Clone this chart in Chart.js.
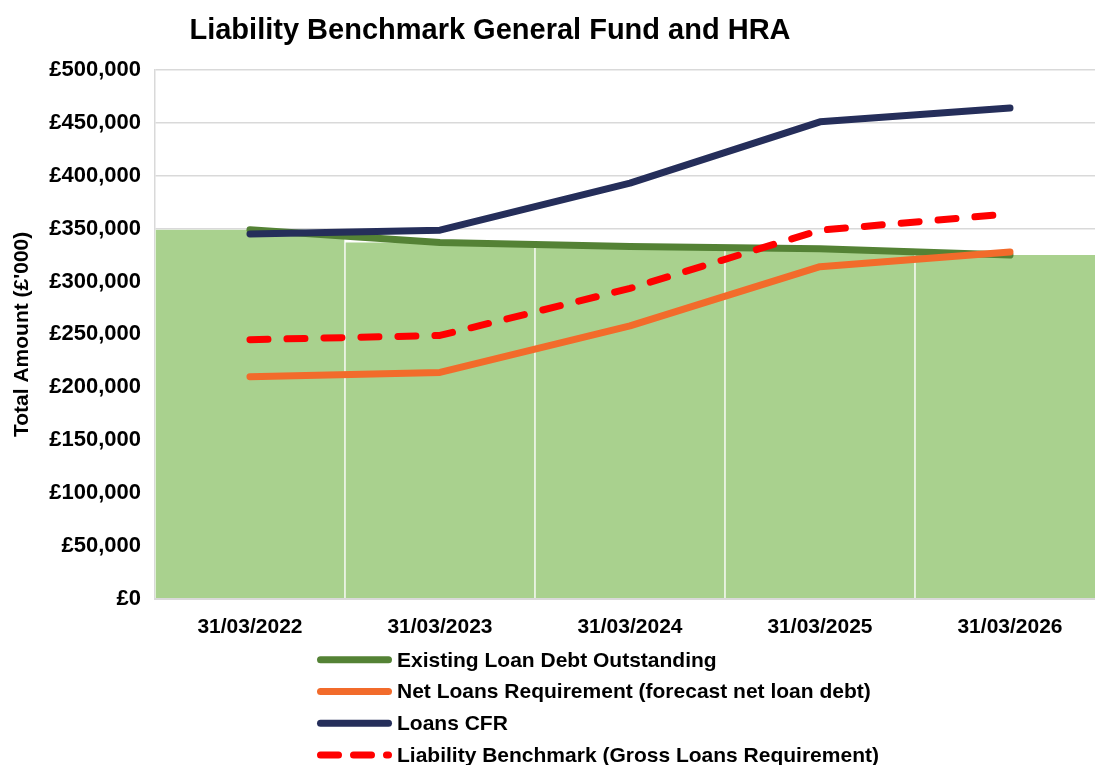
<!DOCTYPE html>
<html>
<head>
<meta charset="utf-8">
<script src="https://cdn.jsdelivr.net/npm/chart.js@4"></script>
<style>
  html, body { margin: 0; padding: 0; background: #fff; overflow: hidden; }
  #wrap { width: 1110px; height: 765px; }
</style>
</head>
<body>
<div id="wrap"><canvas id="benchmarkChart" width="1110" height="765"></canvas></div>
<script>
const categories = ['31/03/2022', '31/03/2023', '31/03/2024', '31/03/2025', '31/03/2026'];
const existingDebt = [349000, 337000, 333000, 331000, 325000];
const netLoansRequirement = [210000, 214000, 258000, 314000, 328000];
const loansCFR = [345000, 348500, 393000, 451000, 464000];
const liabilityBenchmark = [245000, 249000, 293500, 348500, 364000];

const FONT = "'Liberation Sans', Arial, sans-serif";

// title drawn at a fixed spot, legend drawn as a vertical list under the axis
const titleAndLegend = {
    id: 'titleAndLegend',
    afterDraw(chart, args, opts) {
        const ctx = chart.ctx;
        ctx.save();
        ctx.fillStyle = '#000';
        ctx.font = 'bold 29px ' + FONT;
        ctx.textAlign = 'center';
        ctx.textBaseline = 'middle';
        ctx.fillText(opts.title, opts.titleX, opts.titleY);

        const lines = chart.data.datasets.filter(d => d.type === 'line')
            .sort((a, b) => b.order - a.order);
        let y = chart.chartArea.bottom + opts.legendTop;
        lines.forEach(ds => {
            ctx.beginPath();
            ctx.strokeStyle = ds.borderColor;
            ctx.lineWidth = ds.borderWidth;
            ctx.lineCap = 'round';
            ctx.setLineDash(ds.borderDash ? opts.legendDash : []);
            ctx.moveTo(opts.legendX, y);
            ctx.lineTo(opts.legendX + opts.sampleWidth, y);
            ctx.stroke();
            ctx.setLineDash([]);
            ctx.font = 'bold 21px ' + FONT;
            ctx.textAlign = 'left';
            ctx.fillStyle = '#000';
            ctx.fillText(ds.label, opts.textX, y + 1);
            y += opts.rowHeight;
        });
        ctx.restore();
    }
};

const ctx = document.getElementById('benchmarkChart').getContext('2d');

new Chart(ctx, {
    data: {
        labels: categories,
        datasets: [
            {
                type: 'line',
                label: 'Existing Loan Debt Outstanding',
                data: existingDebt,
                borderColor: '#548235',
                borderWidth: 7,
                borderCapStyle: 'round',
                borderJoinStyle: 'round',
                pointRadius: 0,
                tension: 0,
                order: 4
            },
            {
                type: 'line',
                label: 'Net Loans Requirement (forecast net loan debt)',
                data: netLoansRequirement,
                borderColor: '#f26b2b',
                borderWidth: 7,
                borderCapStyle: 'round',
                borderJoinStyle: 'round',
                pointRadius: 0,
                tension: 0,
                order: 3
            },
            {
                type: 'line',
                label: 'Loans CFR',
                data: loansCFR,
                borderColor: '#252e5a',
                borderWidth: 7,
                borderCapStyle: 'round',
                borderJoinStyle: 'round',
                pointRadius: 0,
                tension: 0,
                order: 2
            },
            {
                type: 'line',
                label: 'Liability Benchmark (Gross Loans Requirement)',
                data: liabilityBenchmark,
                borderColor: '#ff0000',
                borderWidth: 7,
                borderDash: [18, 19],
                borderCapStyle: 'round',
                borderJoinStyle: 'round',
                pointRadius: 0,
                tension: 0,
                order: 1
            },
            {
                type: 'bar',
                label: 'Existing Loan Debt Outstanding (area)',
                data: existingDebt,
                backgroundColor: '#a9d18e',
                borderColor: '#ffffff',
                borderWidth: { left: 1, right: 1, top: 0, bottom: 0 },
                borderSkipped: false,
                categoryPercentage: 1.0,
                barPercentage: 1.0,
                order: 5
            }
        ]
    },
    options: {
        responsive: false,
        animation: false,
        layout: {
            padding: { top: 70, left: 10, right: 5, bottom: 117 }
        },
        plugins: {
            legend: { display: false },
            tooltip: { enabled: false },
            titleAndLegend: {
                title: 'Liability Benchmark General Fund and HRA',
                titleX: 490,
                titleY: 31,
                legendX: 320.5,
                sampleWidth: 68,
                legendDash: [18, 15],
                textX: 397,
                legendTop: 61,
                rowHeight: 31.7
            }
        },
        scales: {
            x: {
                grid: { display: false },
                border: { display: true, color: '#d9d9d9', width: 2 },
                ticks: {
                    color: '#000',
                    font: { family: FONT, size: 21, weight: 'bold' },
                    padding: 8,
                    maxRotation: 0
                }
            },
            y: {
                min: 0,
                max: 500000,
                grid: { color: '#d9d9d9', lineWidth: 1.5, drawTicks: false },
                border: { display: true, color: '#d9d9d9', width: 1.5 },
                ticks: {
                    stepSize: 50000,
                    color: '#000',
                    padding: 14,
                    font: { family: FONT, size: 22, weight: 'bold' },
                    callback: v => '£' + v.toLocaleString('en-GB')
                },
                title: {
                    display: true,
                    text: "Total Amount (£'000)",
                    color: '#000',
                    font: { family: FONT, size: 21, weight: 'bold' },
                    padding: { top: 0, bottom: 0 }
                }
            }
        }
    },
    plugins: [titleAndLegend]
});
</script>
</body>
</html>
